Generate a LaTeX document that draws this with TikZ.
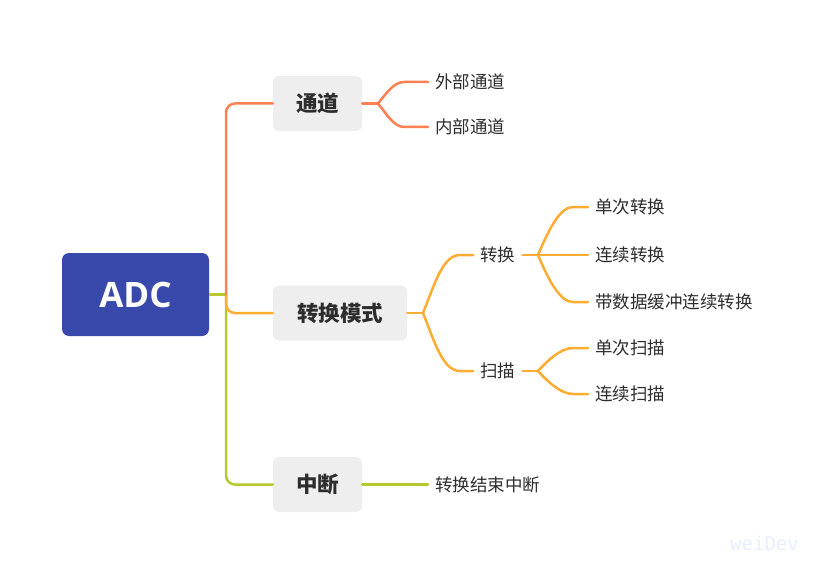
\documentclass[tikz,border=0pt]{standalone}
\usepackage{fontspec}
\usetikzlibrary{calc}
\newfontfamily\cjk{Noto Sans CJK SC}
\newfontfamily\latinf{Open Sans}
\newfontfamily\monof{DejaVu Sans Mono}
\definecolor{rootblue}{RGB}{57,73,171}
\definecolor{boxgray}{RGB}{238,238,238}
\definecolor{coral}{RGB}{255,128,82}
\definecolor{amber}{RGB}{255,172,51}
\definecolor{lime}{RGB}{182,200,45}
\definecolor{txt}{RGB}{45,45,45}
\definecolor{wmark}{RGB}{232,238,255}
\tikzset{
  rootbox/.style={fill=rootblue, rounded corners=7pt, minimum width=147pt, minimum height=83pt, inner sep=0pt, text=white, font=\latinf\bfseries\fontsize{35}{40}\selectfont},
  midbox/.style={fill=boxgray, rounded corners=6pt, minimum height=55pt, inner sep=0pt, text=txt, font=\cjk\bfseries\fontsize{21.5}{24}\selectfont},
  leaf/.style={inner xsep=7pt, inner ysep=0pt, text=txt, font=\cjk\fontsize{17.5}{20}\selectfont},
  link/.style={line width=2.5pt, line cap=round, rounded corners=9pt},
  curvy/.style={line width=2.5pt, line cap=round},
}
\begin{document}
\begin{tikzpicture}[x=1pt,y=-1pt]
\useasboundingbox (0,0) rectangle (822,575);

% nodes
\node[rootbox] (adc) at (135.5,294.5) {ADC};
\node[midbox, minimum width=89pt] (td) at (317.5,103.5) {通道};
\node[midbox, minimum width=134pt] (zh) at (340,313) {转换模式};
\node[midbox, minimum width=89pt] (zd) at (317.5,484.5) {中断};

\node[leaf, anchor=west] (wb) at (428,82) {外部通道};
\node[leaf, anchor=west] (nb) at (428,127) {内部通道};

\node[leaf, anchor=west] (zhc) at (473,255) {转换};
\node[leaf, anchor=west] (sm) at (473,371) {扫描};

\node[leaf, anchor=west] (dczh) at (588,207) {单次转换};
\node[leaf, anchor=west] (lxzh) at (588,255) {连续转换};
\node[leaf, anchor=west] (dsj) at (588,302) {带数据缓冲连续转换};
\node[leaf, anchor=west] (dcsm) at (588,348) {单次扫描};
\node[leaf, anchor=west] (lxsm) at (588,394) {连续扫描};

\node[leaf, anchor=west] (jszd) at (428,484.5) {转换结束中断};

\node[font=\monof\fontsize{19}{22}\selectfont, text=wmark, anchor=west, inner sep=0pt] (wm) at (730,543) {weiDev};

% trunk
\coordinate (tr) at (226,294.5);
\draw[curvy, lime, line cap=butt] (adc.east |- tr) -- ($(tr)+(1.25,0)$);
\draw[link, lime] (tr) |- (zd.west);
\draw[link, amber] (tr) |- (zh.west);
\draw[link, coral] (tr) |- (td.west);

% 通道 children
\coordinate (f1) at (378,103.5);
\draw[curvy, coral] (td.east) -- (f1);
\draw[curvy, coral] (f1) .. controls +(9,-11) and ($(wb.west)+(-34,0)$) .. ($(wb.west)+(-24,0)$) -- (wb.west);
\draw[curvy, coral] (f1) .. controls +(9,11) and ($(nb.west)+(-34,0)$) .. ($(nb.west)+(-24,0)$) -- (nb.west);

% 转换模式 children
\coordinate (f2) at (423,313);
\draw[curvy, amber] (zh.east) -- (f2);
\draw[curvy, amber] (f2) .. controls +(12,-30) and ($(zhc.west)+(-30,0)$) .. ($(zhc.west)+(-13,0)$) -- (zhc.west);
\draw[curvy, amber] (f2) .. controls +(12,30) and ($(sm.west)+(-30,0)$) .. ($(sm.west)+(-13,0)$) -- (sm.west);

% 转换 children
\coordinate (f3) at (538,255);
\draw[curvy, amber] (zhc.east) -- (f3) -- (lxzh.west);
\draw[curvy, amber] (f3) .. controls +(11,-26) and ($(dczh.west)+(-28,0)$) .. ($(dczh.west)+(-15,0)$) -- (dczh.west);
\draw[curvy, amber] (f3) .. controls +(11,26) and ($(dsj.west)+(-28,0)$) .. ($(dsj.west)+(-15,0)$) -- (dsj.west);

% 扫描 children
\coordinate (f4) at (538,371);
\draw[curvy, amber] (sm.east) -- (f4);
\draw[curvy, amber] (f4) .. controls +(10,-11) and ($(dcsm.west)+(-27,0)$) .. ($(dcsm.west)+(-15,0)$) -- (dcsm.west);
\draw[curvy, amber] (f4) .. controls +(10,11) and ($(lxsm.west)+(-27,0)$) .. ($(lxsm.west)+(-15,0)$) -- (lxsm.west);

% 中断 child
\draw[curvy, lime] (zd.east) -- (jszd.west);
\end{tikzpicture}
\end{document}
